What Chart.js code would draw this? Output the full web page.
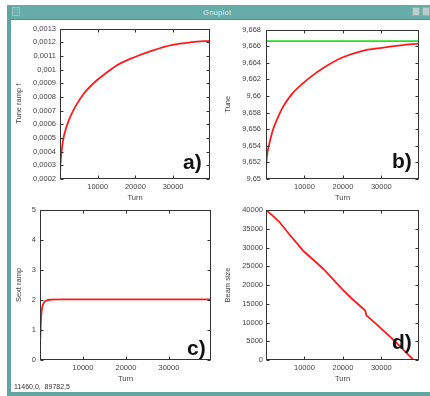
<!DOCTYPE html>
<html>
<head>
<meta charset="utf-8">
<script src="https://cdn.jsdelivr.net/npm/chart.js@4.4.1/dist/chart.umd.min.js"></script>
<style>
  body { margin: 0; width: 430px; height: 396px; background: #fff; position: relative; overflow: hidden;
         font-family: "Liberation Sans", Arial, sans-serif; }
  .frame { position: absolute; background: #5fa6a2; }
  .titlebar { position: absolute; left: 7px; top: 5px; width: 423px; height: 15px; background: #66aca8;
              border-bottom: 1px solid #4f8f8b; box-sizing: border-box; }
  .titlebar .name { position: absolute; left: 196px; top: 3px; font-size: 7.5px; color: #d8ecea; letter-spacing: 0.3px; }
  .btn { position: absolute; top: 2px; width: 8px; height: 9px; border: 1px solid #8fc2bf; box-sizing: border-box; background: #6fb2ae; }
  canvas { position: absolute; }
  .tag { position: absolute; font: bold 21px "Liberation Sans", Arial, sans-serif; color: #111; line-height: 21px; }
  .status { position: absolute; left: 14px; top: 383px; font-size: 7px; color: #333; }
</style>
</head>
<body>
<div class="titlebar">
  <div class="btn" style="left:5px"></div>
  <div class="name">Gnuplot</div>
  <div class="btn" style="left:405px;background:#b9cfcd;border-color:#8fb0ad"></div>
  <div class="btn" style="left:415px;background:#b9cfcd;border-color:#8fb0ad"></div>
</div>
<div class="frame" style="left:7px;top:5px;width:4px;height:391px"></div>
<div class="frame" style="left:7px;top:392px;width:423px;height:4px"></div>

<canvas id="chartA" width="215" height="184" style="left:0;top:20px"></canvas>
<canvas id="chartB" width="215" height="184" style="left:215px;top:20px"></canvas>
<canvas id="chartC" width="215" height="185" style="left:0;top:200px"></canvas>
<canvas id="chartD" width="215" height="185" style="left:215px;top:200px"></canvas>

<div class="tag" style="left:183px;top:151px">a)</div>
<div class="tag" style="left:392px;top:150px">b)</div>
<div class="tag" style="left:187px;top:337px">c)</div>
<div class="tag" style="left:392px;top:331px">d)</div>
<div class="status">11460,0,&nbsp; 89782,5</div>

<script>
// x axis (shared)
const turnMax = 39800;
const turnTicks = [10000, 20000, 30000];
const turnTickLabels = ["10000", "20000", "30000"];

// a) tune ramp f
const turnsA = [0, 100, 350, 800, 1700, 2800, 4300, 6500, 9700, 12500, 15000, 19700, 24700, 29800, 35000, 39800];
const rampA = [0.00022, 0.00030, 0.00038, 0.00048, 0.00058, 0.00066, 0.00074, 0.00083, 0.00092, 0.00098,
               0.00103, 0.00109, 0.00114, 0.00118, 0.00120, 0.00121];
const ticksA = [0.0002, 0.0003, 0.0004, 0.0005, 0.0006, 0.0007, 0.0008, 0.0009, 0.001, 0.0011, 0.0012, 0.0013];
const tickLabelsA = ["0,0002", "0,0003", "0,0004", "0,0005", "0,0006", "0,0007", "0,0008", "0,0009", "0,001", "0,0011", "0,0012", "0,0013"];

// b) tune
const turnsB = [0, 100, 300, 700, 1200, 2000, 3000, 4200, 6500, 9800, 12500, 15000, 19700, 24900, 30100, 35000, 39800];
const tuneB = [9.6512, 9.6520, 9.6530, 9.6539, 9.6549, 9.6562, 9.6573, 9.6585, 9.6601, 9.6616, 9.6626,
               9.6634, 9.6646, 9.6654, 9.6658, 9.6661, 9.6663];
const targetTurnsB = [0, 39800];
const targetTuneB = [9.6666, 9.6666];
const ticksB = [9.650, 9.652, 9.654, 9.656, 9.658, 9.660, 9.662, 9.664, 9.666, 9.668];
const tickLabelsB = ["9,65", "9,652", "9,654", "9,656", "9,658", "9,66", "9,662", "9,664", "9,666", "9,668"];

// c) sext ramp
const turnsC = [0, 150, 300, 550, 950, 1500, 2600, 5000, 39800];
const sextC = [0.55, 1.05, 1.5, 1.77, 1.92, 1.98, 2.01, 2.02, 2.02];
const ticksC = [0, 1, 2, 3, 4, 5];
const tickLabelsC = ["0", "1", "2", "3", "4", "5"];

// d) beam size
const turnsD = [0, 1500, 3500, 6000, 9800, 12000, 15000, 19800, 22500, 25800, 26100, 29000, 32800, 35000, 36700, 38400];
const beamD = [40000, 38700, 36800, 33600, 29000, 27000, 24200, 18900, 16200, 13200, 11900, 9300, 5700, 3500, 1700, 0];
const ticksD = [0, 5000, 10000, 15000, 20000, 25000, 30000, 35000, 40000];
const tickLabelsD = ["0", "5000", "10000", "15000", "20000", "25000", "30000", "35000", "40000"];

Chart.defaults.font.family = '"Liberation Sans", Arial, sans-serif';
Chart.defaults.font.size = 7.5;
Chart.defaults.color = "#444";

// gnuplot style box with inward ticks on all four sides
const gnuFrame = {
  id: "gnuFrame",
  afterDatasetsDraw(chart) {
    const { ctx, chartArea: a, scales: { x, y } } = chart;
    const L = Math.round(a.left) + 0.5, R = Math.round(a.right) - 0.5;
    const T = Math.round(a.top) + 0.5, B = Math.round(a.bottom) - 0.5;
    ctx.save();
    ctx.strokeStyle = "#333";
    ctx.lineWidth = 1;
    ctx.beginPath();
    x.ticks.forEach((t) => {
      const px = Math.round(x.getPixelForValue(t.value)) + 0.5;
      ctx.moveTo(px, T); ctx.lineTo(px, T + 3);
      ctx.moveTo(px, B); ctx.lineTo(px, B - 3);
    });
    y.ticks.forEach((t) => {
      const py = Math.round(y.getPixelForValue(t.value)) + 0.5;
      ctx.moveTo(L, py); ctx.lineTo(L + 3, py);
      ctx.moveTo(R, py); ctx.lineTo(R - 3, py);
    });
    ctx.stroke();
    ctx.strokeRect(L, T, R - L, B - T);
    ctx.restore();
  },
};

function toPoints(xs, ys) {
  return xs.map((v, i) => ({ x: v, y: ys[i] }));
}

function makePlot(id, cfg) {
  const datasets = cfg.series.map((s) => ({
    data: toPoints(s.x, s.y),
    borderColor: s.color,
    borderWidth: 1.8,
    pointRadius: 0,
    cubicInterpolationMode: s.smooth ? "monotone" : "default",
    tension: 0,
    fill: false,
  }));
  return new Chart(document.getElementById(id), {
    type: "line",
    data: { datasets },
    options: {
      responsive: false,
      animation: false,
      events: [],
      layout: { padding: { top: cfg.padTop, right: cfg.padRight, left: 0, bottom: 0 } },
      plugins: { legend: { display: false }, tooltip: { enabled: false } },
      scales: {
        x: {
          type: "linear",
          min: 0,
          max: turnMax,
          grid: { display: false, drawTicks: false },
          border: { display: false },
          afterBuildTicks: (s) => { s.ticks = turnTicks.map((v) => ({ value: v })); },
          afterFit: (s) => { s.height = 25; },
          ticks: {
            padding: cfg.xPad,
            maxRotation: 0,
            callback: (v, i) => turnTickLabels[i],
          },
          title: { display: true, text: "Turn", padding: { top: 0, bottom: 2 }, color: "#444" },
        },
        y: {
          type: "linear",
          min: cfg.yTicks[0],
          max: cfg.yTicks[cfg.yTicks.length - 1],
          grid: { display: false, drawTicks: false },
          border: { display: false },
          afterBuildTicks: (s) => { s.ticks = cfg.yTicks.map((v) => ({ value: v })); },
          afterFit: (s) => { s.width = cfg.yWidth; },
          ticks: {
            padding: cfg.yPad,
            callback: (v, i) => cfg.yLabels[i],
          },
          title: { display: true, text: cfg.yTitle, padding: { top: cfg.titlePad, bottom: 0 }, color: "#444" },
        },
      },
    },
    plugins: [gnuFrame],
  });
}

makePlot("chartA", {
  series: [{ x: turnsA, y: rampA, color: "#ff1a1a", smooth: true }],
  yTicks: ticksA, yLabels: tickLabelsA, yTitle: "Tune ramp f",
  yWidth: 60, padTop: 6, padRight: 5, yPad: 4, xPad: 3, titlePad: 14,
});

makePlot("chartB", {
  series: [
    { x: targetTurnsB, y: targetTuneB, color: "#22e022", smooth: false },
    { x: turnsB, y: tuneB, color: "#ff1a1a", smooth: true },
  ],
  yTicks: ticksB, yLabels: tickLabelsB, yTitle: "Tune",
  yWidth: 51, padTop: 6, padRight: 11, yPad: 5, xPad: 3, titlePad: 8,
});

makePlot("chartC", {
  series: [{ x: turnsC, y: sextC, color: "#ff1a1a", smooth: true }],
  yTicks: ticksC, yLabels: tickLabelsC, yTitle: "Sext ramp",
  yWidth: 40, padTop: 10, padRight: 4, yPad: 4, xPad: 3, titlePad: 14,
});

makePlot("chartD", {
  series: [{ x: turnsD, y: beamD, color: "#ff1a1a", smooth: false }],
  yTicks: ticksD, yLabels: tickLabelsD, yTitle: "Beam size",
  yWidth: 51, padTop: 10, padRight: 11, yPad: 3, xPad: 3, titlePad: 8,
});
</script>
</body>
</html>
